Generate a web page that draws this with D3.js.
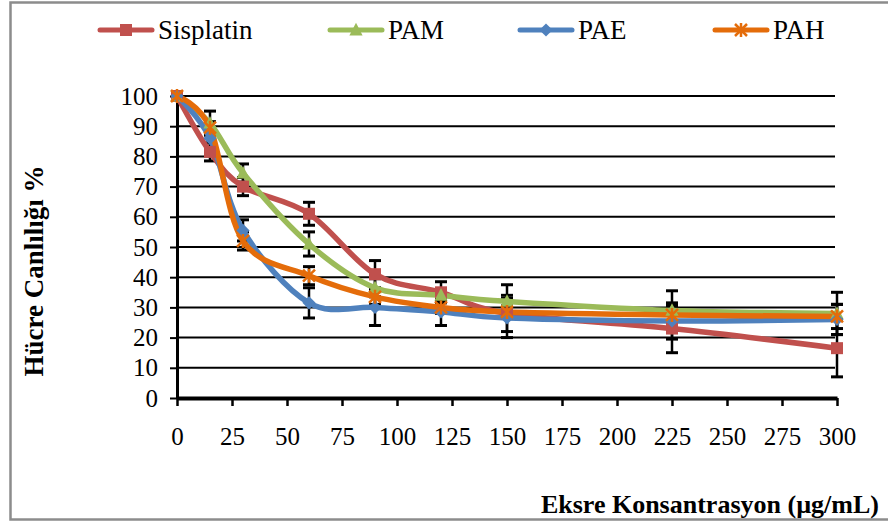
<!DOCTYPE html>
<html>
<head>
<meta charset="utf-8">
<script src="https://cdn.jsdelivr.net/npm/d3@7"></script>
<style>
  html, body { margin: 0; padding: 0; background: #fff; }
  svg { display: block; font-family: "Liberation Serif", "Times New Roman", serif; }
</style>
</head>
<body>
<svg id="chart" width="888" height="524"></svg>
<script>
// Concentrations (µg/mL)
const concentrations = [0, 15, 30, 60, 90, 120, 150, 225, 300];

// Cell viability (%) per extract
const sisplatin = [100, 81.5, 70, 61, 41, 35, 28, 23, 16.5];
const pam       = [100, 91, 74.5, 51, 36.5, 34, 32, 29, 28];
const pae       = [100, 86, 55.5, 31.5, 30, 28.5, 26.5, 25.5, 26];
const pah       = [100, 89.5, 52, 40.5, 33.5, 30, 28.5, 27.5, 27];

// Standard deviations
const sisplatinErr = [0, 3, 3, 3.8, 4.5, 3.5, 6, 8, 9.5];
const pamErr       = [0, 4, 3, 4, 3, 2, 5.5, 6.5, 7];
const paeErr       = [0, 3, 3.5, 5, 6, 4.5, 6.5, 6, 5];
const pahErr       = [0, 2, 3, 3, 2.5, 2, 2, 3, 4];

// Axis ticks
const xTicks = [0, 25, 50, 75, 100, 125, 150, 175, 200, 225, 250, 275, 300];
const yTicks = [0, 10, 20, 30, 40, 50, 60, 70, 80, 90, 100];

const seriesNames  = ["Sisplatin", "PAM", "PAE", "PAH"];
const seriesColors = ["#C0504D", "#9BBB59", "#4F81BD", "#E46C0A"];
const seriesShapes = ["square", "triangle", "diamond", "star"];

const series = [
  { name: seriesNames[0], values: sisplatin, err: sisplatinErr, color: seriesColors[0], shape: seriesShapes[0] },
  { name: seriesNames[1], values: pam,       err: pamErr,       color: seriesColors[1], shape: seriesShapes[1] },
  { name: seriesNames[2], values: pae,       err: paeErr,       color: seriesColors[2], shape: seriesShapes[2] },
  { name: seriesNames[3], values: pah,       err: pahErr,       color: seriesColors[3], shape: seriesShapes[3] }
];

const svg = d3.select("#chart");

// outer frame
svg.append("rect")
  .attr("x", 10.5).attr("y", 2.5)
  .attr("width", 890).attr("height", 517)
  .attr("fill", "none").attr("stroke", "#8c8c8c").attr("stroke-width", 2.5);

const x = d3.scaleLinear().domain([0, 300]).range([177, 837]);
const y = d3.scaleLinear().domain([0, 100]).range([398, 96]);

// horizontal gridlines
svg.append("g")
  .selectAll("line")
  .data(yTicks.filter(v => v > 0))
  .join("line")
  .attr("x1", x(0)).attr("x2", x(300) - 2)
  .attr("y1", d => y(d)).attr("y2", d => y(d))
  .attr("stroke", "#000").attr("stroke-width", 2);

// y axis
const yAxis = svg.append("g")
  .attr("transform", `translate(${x(0)},0)`)
  .call(d3.axisLeft(y).tickValues(yTicks).tickSize(7).tickPadding(12).tickSizeOuter(0));
yAxis.select(".domain").attr("stroke", "#000").attr("stroke-width", 3);
yAxis.selectAll(".tick line").attr("stroke", "#000").attr("stroke-width", 2);
yAxis.selectAll(".tick text")
  .attr("font-size", 25).attr("font-family", "Liberation Serif, serif").attr("fill", "#000");

// x axis
const xAxis = svg.append("g")
  .attr("transform", `translate(0,${y(0)})`)
  .call(d3.axisBottom(x).tickValues(xTicks).tickSize(8).tickPadding(21).tickSizeOuter(0));
xAxis.select(".domain").attr("stroke", "#000").attr("stroke-width", 4);
xAxis.selectAll(".tick line").attr("stroke", "#000").attr("stroke-width", 2.5);
xAxis.selectAll(".tick text")
  .attr("font-size", 25).attr("font-family", "Liberation Serif, serif").attr("fill", "#000");

// error bars
const errG = svg.append("g");
series.forEach(s => {
  s.values.forEach((v, i) => {
    const e = s.err[i];
    if (!e) return;
    const cx = x(concentrations[i]);
    const y1 = y(v + e), y2 = y(v - e);
    errG.append("line").attr("x1", cx).attr("x2", cx).attr("y1", y1).attr("y2", y2)
      .attr("stroke", "#000").attr("stroke-width", 2.5);
    [y1, y2].forEach(yy => {
      errG.append("line").attr("x1", cx - 6).attr("x2", cx + 6).attr("y1", yy).attr("y2", yy)
        .attr("stroke", "#000").attr("stroke-width", 3);
    });
  });
});

// smoothed lines
const line = d3.line()
  .x(d => x(d[0]))
  .y(d => y(d[1]))
  .curve(d3.curveCardinal.tension(0));

series.forEach(s => {
  svg.append("path")
    .datum(concentrations.map((c, i) => [c, s.values[i]]))
    .attr("d", line)
    .attr("fill", "none")
    .attr("stroke", s.color)
    .attr("stroke-width", 5.5)
    .attr("stroke-linejoin", "round")
    .attr("stroke-linecap", "round");
});

// marker drawing
function drawMarker(g, shape, cx, cy, color, size) {
  if (shape === "square") {
    g.append("rect").attr("x", cx - size / 2).attr("y", cy - size / 2)
      .attr("width", size).attr("height", size).attr("fill", color);
  } else if (shape === "triangle") {
    const h = size;
    g.append("path")
      .attr("d", `M${cx},${cy - h * 0.6}L${cx + h * 0.55},${cy + h * 0.45}L${cx - h * 0.55},${cy + h * 0.45}Z`)
      .attr("fill", color);
  } else if (shape === "diamond") {
    const r = size * 0.55;
    g.append("path")
      .attr("d", `M${cx},${cy - r}L${cx + r},${cy}L${cx},${cy + r}L${cx - r},${cy}Z`)
      .attr("fill", color);
  } else if (shape === "star") {
    const r = size * 0.5;
    const p = `M${cx - r},${cy - r}L${cx + r},${cy + r}M${cx + r},${cy - r}L${cx - r},${cy + r}M${cx},${cy - r - 1}L${cx},${cy + r + 1}`;
    g.append("path").attr("d", p).attr("stroke", color).attr("stroke-width", 2.5).attr("fill", "none");
  }
}

const markerG = svg.append("g");
series.forEach(s => {
  s.values.forEach((v, i) => {
    drawMarker(markerG, s.shape, x(concentrations[i]), y(v), s.color, 12);
  });
});

// legend
const legendX = [100, 330, 520, 715];
const legend = svg.append("g");
series.forEach((s, i) => {
  const lx = legendX[i];
  const ly = 30;
  legend.append("line").attr("x1", lx).attr("x2", lx + 52).attr("y1", ly).attr("y2", ly)
    .attr("stroke", s.color).attr("stroke-width", 5).attr("stroke-linecap", "round");
  drawMarker(legend, s.shape, lx + 26, ly, s.color, 12);
  legend.append("text")
    .attr("x", lx + 58).attr("y", ly + 9)
    .attr("font-size", 27).attr("fill", "#000")
    .text(s.name);
});

// axis titles
svg.append("text")
  .attr("transform", `translate(43,${(y(0) + y(100)) / 2 + 24}) rotate(-90)`)
  .attr("text-anchor", "middle")
  .attr("font-size", 27).attr("font-weight", "bold").attr("fill", "#000")
  .text("Hücre Canlılığı %");

svg.append("text")
  .attr("x", 879).attr("y", 513)
  .attr("text-anchor", "end")
  .attr("font-size", 26).attr("font-weight", "bold").attr("fill", "#000")
  .text("Eksre Konsantrasyon (µg/mL)");
</script>
</body>
</html>
